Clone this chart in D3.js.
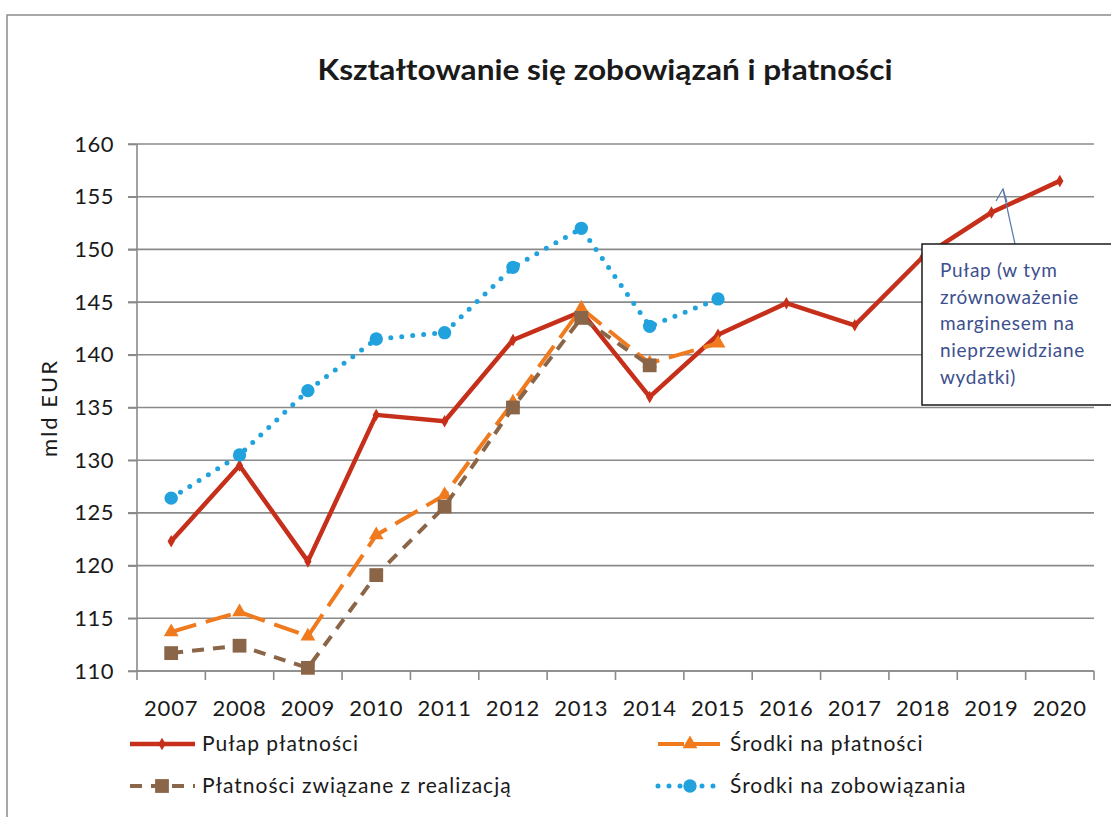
<!DOCTYPE html>
<meta charset="utf-8">
<title>Kształtowanie się zobowiązań i płatności</title>
<script src="https://cdn.jsdelivr.net/npm/d3@7"></script>
<style>
  body { margin: 0; background: #fff; }
  text { font-family: Lato, "Open Sans", sans-serif; fill: #1a1a1a; }
  .grid line { stroke: #8a8a8a; stroke-width: 1.6; }
  .axis path, .axis line { stroke: #8a8a8a; stroke-width: 1.6; }
</style>
<body>
<svg></svg>
<script>
// years on the x axis
var years = ["2007","2008","2009","2010","2011","2012","2013","2014","2015","2016","2017","2018","2019","2020"];
var yTicks = [110, 115, 120, 125, 130, 135, 140, 145, 150, 155, 160];

// values (mld EUR)
var pulapPlatnosci   = [122.3, 129.5, 120.4, 134.3, 133.7, 141.4, 144.1, 136.0, 141.9, 144.9, 142.8, 149.3, 153.5, 156.5];
var srodkiPlatnosci  = [113.7, 115.6, 113.3, 122.9, 126.7, 135.5, 144.4, 139.2, 141.1];
var platnosciRealiz  = [111.7, 112.4, 110.3, 119.1, 125.6, 135.0, 143.5, 139.0];
var srodkiZobow      = [126.4, 130.5, 136.6, 141.5, 142.1, 148.3, 152.0, 142.7, 145.3];

var noteLines = ["Pułap (w tym", "zrównoważenie", "marginesem na", "nieprzewidziane", "wydatki)"];

var width = 1111, height = 817;

var svg = d3.select("svg")
    .attr("width", width)
    .attr("height", height);

// outer chart border (top + left visible)
svg.append("path")
    .attr("d", "M7,817 V15 H1111")
    .attr("fill", "none")
    .attr("stroke", "#8c8c8c")
    .attr("stroke-width", 1.5);

svg.append("text")
    .attr("x", 605).attr("y", 80)
    .attr("text-anchor", "middle")
    .attr("textLength", 575)
    .attr("lengthAdjust", "spacingAndGlyphs")
    .style("font-size", "28px")
    .style("font-weight", "bold")
    .text("Kształtowanie się zobowiązań i płatności");

var x = d3.scaleBand()
    .domain(years)
    .range([137, 1094]);

var y = d3.scaleLinear()
    .domain([110, 160])
    .range([671, 144]);

function cx(i) { return x(years[i]) + x.bandwidth() / 2; }

// horizontal gridlines
svg.append("g")
    .attr("class", "grid")
    .selectAll("line")
    .data(yTicks)
    .enter().append("line")
    .attr("x1", 128).attr("x2", 1094)
    .attr("y1", function(d) { return y(d); })
    .attr("y2", function(d) { return y(d); });

// y axis
var yAxis = svg.append("g")
    .attr("class", "axis")
    .attr("transform", "translate(137,0)")
    .call(d3.axisLeft(y).tickValues(yTicks).tickSize(9).tickSizeOuter(0).tickPadding(14));
yAxis.select(".domain").remove();
yAxis.append("line").attr("y1", 144).attr("y2", 671);
yAxis.selectAll("text")
    .style("font-size", "22px")
    .style("letter-spacing", "0.5px")
    .attr("fill", "#1a1a1a");

// x axis, ticks at category boundaries
var xAxis = svg.append("g")
    .attr("class", "axis")
    .attr("transform", "translate(0,671)");
xAxis.append("line").attr("x1", 137).attr("x2", 1094);
xAxis.selectAll(".tk")
    .data(years.concat(["end"]))
    .enter().append("line")
    .attr("x1", function(d, i) { return 137 + i * x.bandwidth(); })
    .attr("x2", function(d, i) { return 137 + i * x.bandwidth(); })
    .attr("y1", 0).attr("y2", 9);
xAxis.selectAll("text")
    .data(years)
    .enter().append("text")
    .attr("x", function(d, i) { return cx(i); })
    .attr("y", 45)
    .attr("text-anchor", "middle")
    .style("font-size", "22px")
    .style("letter-spacing", "0.8px")
    .text(function(d) { return d; });

svg.append("text")
    .attr("transform", "translate(57,408) rotate(-90)")
    .attr("text-anchor", "middle")
    .style("font-size", "22px")
    .style("letter-spacing", "2px")
    .text("mld EUR");

var series = [
  { name: "Pułap płatności", values: pulapPlatnosci, color: "#c62f1a", width: 4.5, dash: null, cap: "butt", marker: "diamond", size: 45 },
  { name: "Środki na płatności", values: srodkiPlatnosci, color: "#f07a1e", width: 4, dash: "26,10", cap: "butt", marker: "triangle", size: 95 },
  { name: "Płatności związane z realizacją", values: platnosciRealiz, color: "#8b6548", width: 4, dash: "12,9", cap: "butt", marker: "square", size: 190 },
  { name: "Środki na zobowiązania", values: srodkiZobow, color: "#22a2dd", width: 5, dash: "0,11", cap: "round", marker: "circle", size: 140 }
];

var symbols = {
  diamond: d3.symbolDiamond,
  triangle: d3.symbolTriangle,
  square: d3.symbolSquare,
  circle: d3.symbolCircle
};

var line = d3.line()
    .x(function(d, i) { return cx(i); })
    .y(function(d) { return y(d); });

series.forEach(function(s) {
  var g = svg.append("g");
  g.append("path")
      .datum(s.values)
      .attr("d", line)
      .attr("fill", "none")
      .attr("stroke", s.color)
      .attr("stroke-width", s.width)
      .attr("stroke-linejoin", "round")
      .attr("stroke-linecap", s.cap)
      .attr("stroke-dasharray", s.dash);
  g.selectAll(".m")
      .data(s.values)
      .enter().append("path")
      .attr("transform", function(d, i) { return "translate(" + cx(i) + "," + y(d) + ")"; })
      .attr("d", d3.symbol().type(symbols[s.marker]).size(s.size))
      .attr("fill", s.color);
});

// annotation box with arrow
svg.append("line")
    .attr("x1", 1015).attr("y1", 244)
    .attr("x2", 1003).attr("y2", 189)
    .attr("stroke", "#5b78ac").attr("stroke-width", 1.2);
svg.append("path")
    .attr("d", "M996,201 L1003,189 L1007,202")
    .attr("fill", "none")
    .attr("stroke", "#5b78ac").attr("stroke-width", 1.2);

svg.append("rect")
    .attr("x", 922).attr("y", 244)
    .attr("width", 200).attr("height", 161)
    .attr("fill", "#fff")
    .attr("stroke", "#1a1a1a")
    .attr("stroke-width", 1.5);

svg.append("g").selectAll("text")
    .data(noteLines)
    .enter().append("text")
    .attr("x", 940)
    .attr("y", function(d, i) { return 277 + i * 26.7; })
    .style("font-size", "19px")
    .style("letter-spacing", "0.7px")
    .style("fill", "#3d4f8e")
    .text(function(d) { return d; });

// legend
var legendPos = [[130, 744], [658, 744], [130, 786], [658, 786]];
var legend = svg.append("g");
series.forEach(function(s, i) {
  var p = legendPos[i];
  var g = legend.append("g").attr("transform", "translate(" + p[0] + "," + p[1] + ")");
  g.append("line")
      .attr("x1", 0).attr("x2", 65)
      .attr("stroke", s.color)
      .attr("stroke-width", s.width)
      .attr("stroke-linecap", s.cap)
      .attr("stroke-dasharray", s.dash);
  g.append("path")
      .attr("transform", "translate(32,0)")
      .attr("d", d3.symbol().type(symbols[s.marker]).size(s.size))
      .attr("fill", s.color);
  g.append("text")
      .attr("x", 72)
      .attr("dy", "0.35em")
      .style("font-size", "21px")
      .style("letter-spacing", "1px")
      .text(s.name);
});
</script>
</body>
